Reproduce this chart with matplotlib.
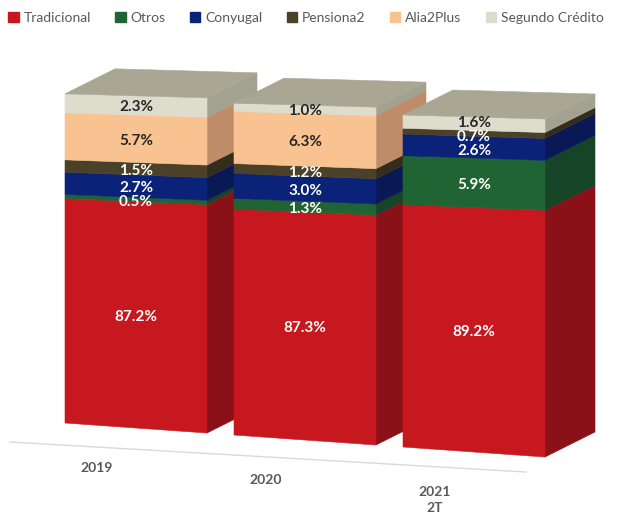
import matplotlib
matplotlib.use("Agg")
import matplotlib.pyplot as plt
from matplotlib.patches import Polygon, Patch

plt.rcParams['font.family'] = ['Lato', 'DejaVu Sans']

# --- data ---
categories = ["2019", "2020", "2021\n2T"]
series = ["Tradicional", "Otros", "Conyugal", "Pensiona2", "Alia2Plus", "Segundo Crédito"]
tradicional = [87.2, 87.3, 89.2]
otros = [0.5, 1.3, 5.9]
conyugal = [2.7, 3.0, 2.6]
pensiona2 = [1.5, 1.2, 0.7]
alia2plus = [5.7, 6.3, 0.0]
segundo = [2.3, 1.0, 1.6]
values = [tradicional, otros, conyugal, pensiona2, alia2plus, segundo]

# --- styles ---
front_colors = ["#C8181F", "#1F6432", "#0A2378", "#4B4128", "#F9C391", "#DEDDCD"]
side_colors = ["#8A1118", "#154526", "#081955", "#342D1C", "#BE8C69", "#A3A190"]
top_color = "#A9A794"
text_colors = ["white", "white", "white", "white", "#262626", "#262626"]

# --- fake 3D layout in pixel space (value axis starts at 60%) ---
axis_min, axis_max = 60, 100
bar_x0, bar_step, bar_w = 65, 169, 142
top_y0, top_step, top_slope = 93, 11, 4
bot_y0, bot_step, bot_slope = 423, 12, 10
depth = (50, -25)
min_gap = 14  # minimum vertical distance between data labels


def point(i, t, v):
    x = bar_x0 + i * bar_step + t * bar_w
    yb = bot_y0 + i * bot_step + t * bot_slope
    yt = top_y0 + i * top_step + t * top_slope
    f = (v - axis_min) / (axis_max - axis_min)
    return (x, yb - f * (yb - yt))


def shift(p):
    return (p[0] + depth[0], p[1] + depth[1])


def spread(ys):
    # push labels apart so they do not sit on top of each other
    ys = list(ys)
    for _ in range(50):
        for k in range(len(ys) - 1):
            gap = ys[k] - ys[k + 1]
            if gap < min_gap:
                d = (min_gap - gap) / 2
                ys[k] += d
                ys[k + 1] -= d
    return ys


fig = plt.figure(figsize=(6.34, 5.14), dpi=100)
ax = fig.add_axes([0, 0, 1, 1])
ax.set_xlim(0, 634)
ax.set_ylim(514, 0)
ax.axis("off")

# floor line
ax.plot([10, 526], [442, 472], color="#D9D9D9", lw=1, zorder=0)

for i in range(len(categories)):
    cum = 0
    labels = []
    for s in range(len(series)):
        v = values[s][i]
        if v <= 0:
            continue
        lo = max(cum, axis_min)
        hi = cum + v
        cum = hi
        bl, br = point(i, 0, lo), point(i, 1, lo)
        tl, tr = point(i, 0, hi), point(i, 1, hi)
        side = [br, tr, shift(tr), shift(br)]
        front = [bl, br, tr, tl]
        ax.add_patch(Polygon(side, closed=True, fc=side_colors[s], ec=side_colors[s], lw=0.4))
        ax.add_patch(Polygon(front, closed=True, fc=front_colors[s], ec=front_colors[s], lw=0.4))
        c = point(i, 0.5, (lo + hi) / 2)
        labels.append((c, f"{v:.1f}%", text_colors[s]))
    # top face
    tl, tr = point(i, 0, cum), point(i, 1, cum)
    ax.add_patch(Polygon([tl, tr, shift(tr), shift(tl)], closed=True, fc=top_color, ec=top_color, lw=0.4))
    ys = spread([c[1] + 2 for c, _, _ in labels])
    for (c, txt, col), y in zip(labels, ys):
        ax.text(c[0], y, txt, ha="center", va="center", fontsize=11,
                fontweight="bold", color=col)
    # category label
    ax.text(bar_x0 + i * bar_step + 32, 462 + i * 12, categories[i], ha="center", va="top",
            fontsize=10, fontweight="bold", color="#595959", linespacing=1.4)

handles = [Patch(facecolor=c, edgecolor=c) for c in front_colors]
ax.legend(handles, series, loc="center left", bbox_to_anchor=(0.013, 0.965), ncol=6,
          frameon=False, fontsize=10, handlelength=0.75, handleheight=0.75,
          handletextpad=0.35, columnspacing=1.75, borderaxespad=0, borderpad=0,
          labelcolor="#595959")

plt.savefig("out.png", dpi=100)
